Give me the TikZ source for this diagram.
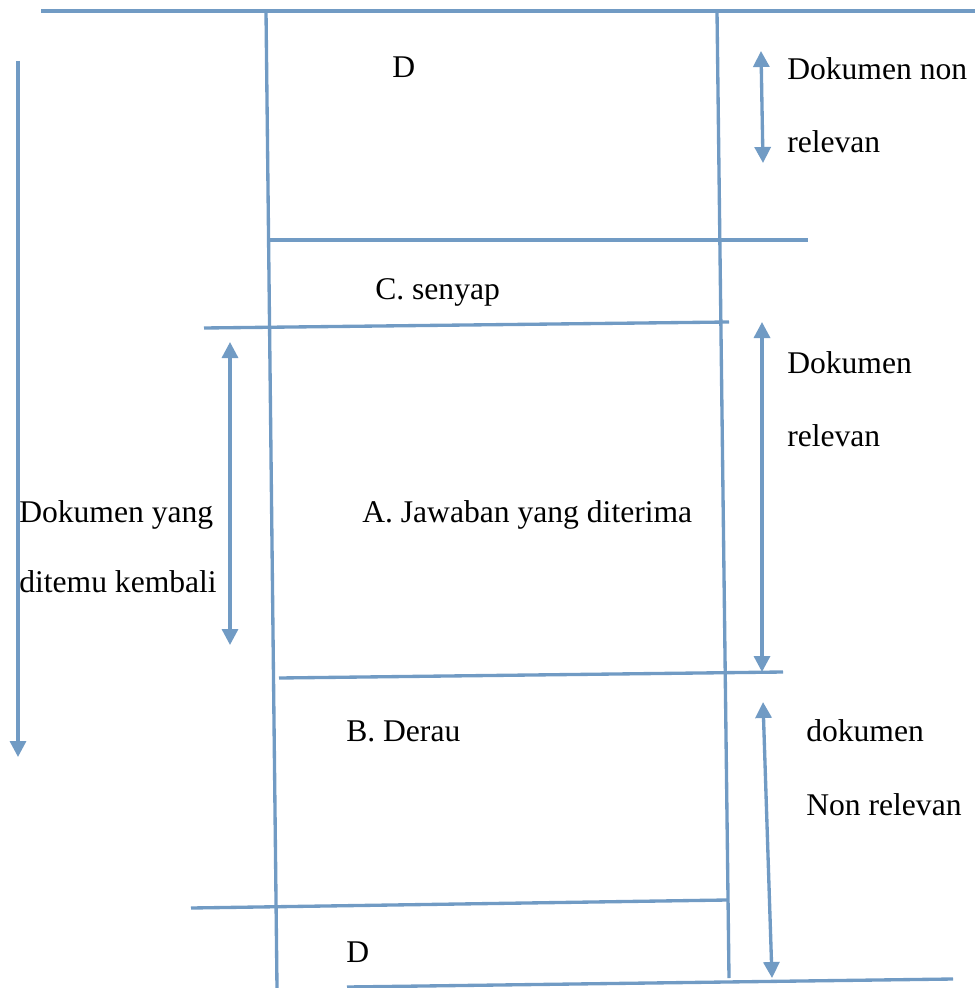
\documentclass[tikz,border=0pt]{standalone}
\usepackage{fontspec}
\setmainfont{Liberation Serif}
\usetikzlibrary{arrows.meta}
\definecolor{rule}{RGB}{113,155,196}
\tikzset{
  rulestroke/.style={draw=rule, line width=2.5pt},
  dimarrow/.style={rulestroke, -{Triangle[width=12pt,length=12pt]}},
  dimboth/.style={rulestroke, {Triangle[width=12pt,length=12pt]}-{Triangle[width=12pt,length=12pt]}},
  lbl/.style={anchor=base west, inner sep=0pt, font=\fontsize{23.7pt}{28pt}\selectfont}
}
\begin{document}
\begin{tikzpicture}[x=0.75pt, y=-0.75pt]
\useasboundingbox (0,0) rectangle (975,988);

% frame corners
\coordinate (topL) at (41,11);
\coordinate (topR) at (975,11);
\coordinate (colLt) at (266,11);
\coordinate (colLb) at (277,988);
\coordinate (colRt) at (717,11);
\coordinate (colRb) at (729,978);
\coordinate (hA1) at (269,240);  \coordinate (hA2) at (808,240);
\coordinate (hB1) at (204,328);  \coordinate (hB2) at (729,322);
\coordinate (hC1) at (279,678);  \coordinate (hC2) at (783,672);
\coordinate (hD1) at (191,908);  \coordinate (hD2) at (727,900);
\coordinate (hE1) at (347,987);  \coordinate (hE2) at (953,979);

% arrow ends
\coordinate (aLt) at (18,61);    \coordinate (aLb) at (18,757);
\coordinate (aRt) at (230,342);  \coordinate (aRb) at (230,645);
\coordinate (n1t) at (761,51);   \coordinate (n1b) at (763,163);
\coordinate (r1t) at (762,322);  \coordinate (r1b) at (762,672);
\coordinate (n2t) at (763,702);  \coordinate (n2b) at (772,978);

% column and band lines
\draw[rulestroke] (topL) -- (topR);
\draw[rulestroke] (colLt) -- (colLb);
\draw[rulestroke] (colRt) -- (colRb);
\draw[rulestroke] (hA1) -- (hA2);
\draw[rulestroke] (hB1) -- (hB2);
\draw[rulestroke] (hC1) -- (hC2);
\draw[rulestroke] (hD1) -- (hD2);
\draw[rulestroke] (hE1) -- (hE2);

% extent arrows
\draw[dimarrow] (aLt) -- (aLb);
\draw[dimboth] (aRt) -- (aRb);
\draw[dimboth] (n1t) -- (n1b);
\draw[dimboth] (r1t) -- (r1b);
\draw[dimboth] (n2t) -- (n2b);

% labels
\node[lbl] (dTop) at (392,78) {D};
\node[lbl] (nonRel1a) at (787,80) {Dokumen non};
\node[lbl] (nonRel1b) at (787,152) {relevan};
\node[lbl] (senyap) at (375,299) {C. senyap};
\node[lbl] (rel1) at (787,373) {Dokumen};
\node[lbl] (rel2) at (787,446) {relevan};
\node[lbl] (ret1) at (19,522) {Dokumen yang};
\node[lbl] (ret2) at (19,592) {ditemu kembali};
\node[lbl] (jawab) at (362,522) {A. Jawaban yang diterima};
\node[lbl] (derau) at (346,741) {B. Derau};
\node[lbl] (nonRel2a) at (806,741) {dokumen};
\node[lbl] (nonRel2b) at (806,815) {Non relevan};
\node[lbl] (dBot) at (346,962) {D};
\end{tikzpicture}
\end{document}
